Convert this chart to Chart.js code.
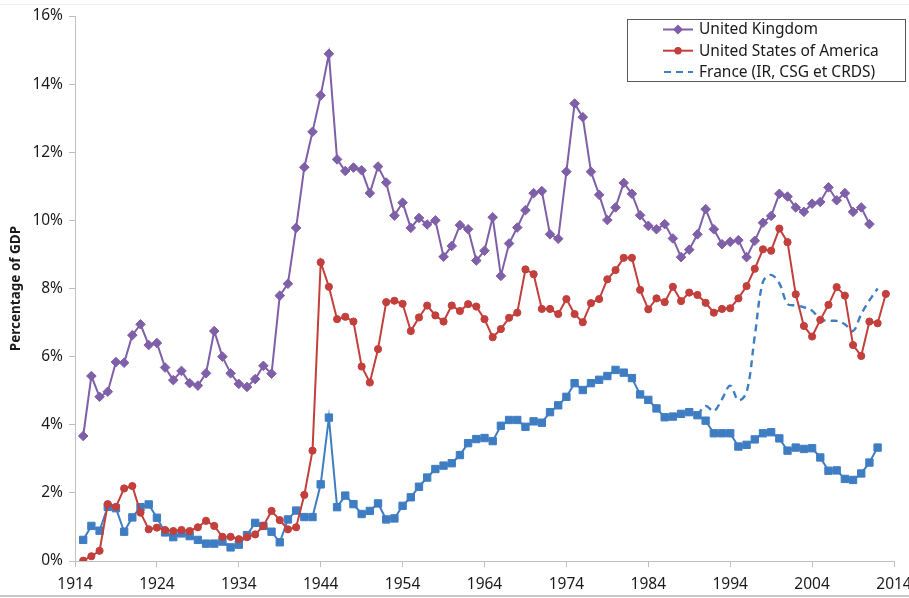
<!DOCTYPE html>
<html>
<head>
<meta charset="utf-8">
<title>Top income tax share of GDP</title>
<script src="https://cdn.jsdelivr.net/npm/chart.js@4/dist/chart.umd.min.js"></script>
<style>
  html, body { margin: 0; padding: 0; background: #fff; }
  #wrap { position: relative; width: 909px; height: 598px; overflow: hidden; }
  #wrap:after {
    content: ''; position: absolute; left: 0; right: 0; bottom: 1px; height: 2px; background: #c9c9c9;
  }
  #wrap:before {
    content: ''; position: absolute; left: 0; right: 0; top: 4px; height: 1px; background: #f0f0f0;
  }
</style>
</head>
<body>
<div id="wrap"><canvas id="chart" width="909" height="598"></canvas></div>
<script>
(function () {
  'use strict';

  // years on the x axis (first data year 1915, last 2013)
  var years = [
    1915, 1916, 1917, 1918, 1919, 1920, 1921, 1922, 1923, 1924,
    1925, 1926, 1927, 1928, 1929, 1930, 1931, 1932, 1933, 1934,
    1935, 1936, 1937, 1938, 1939, 1940, 1941, 1942, 1943, 1944,
    1945, 1946, 1947, 1948, 1949, 1950, 1951, 1952, 1953, 1954,
    1955, 1956, 1957, 1958, 1959, 1960, 1961, 1962, 1963, 1964,
    1965, 1966, 1967, 1968, 1969, 1970, 1971, 1972, 1973, 1974,
    1975, 1976, 1977, 1978, 1979, 1980, 1981, 1982, 1983, 1984,
    1985, 1986, 1987, 1988, 1989, 1990, 1991, 1992, 1993, 1994,
    1995, 1996, 1997, 1998, 1999, 2000, 2001, 2002, 2003, 2004,
    2005, 2006, 2007, 2008, 2009, 2010, 2011, 2012, 2013
  ];

  var xTicks = [1914, 1924, 1934, 1944, 1954, 1964, 1974, 1984, 1994, 2004, 2014];
  var yTicks = [0, 2, 4, 6, 8, 10, 12, 14, 16];

  // United Kingdom, 1915-2011 (% of GDP)
  var ukValues = [
    3.67, 5.43, 4.82, 4.97, 5.84, 5.82, 6.63, 6.95, 6.34, 6.40,
    5.68, 5.31, 5.58, 5.22, 5.15, 5.51, 6.75, 6.00, 5.51, 5.20,
    5.11, 5.34, 5.73, 5.50, 7.79, 8.14, 9.78, 11.56, 12.60, 13.67,
    14.89, 11.79, 11.45, 11.55, 11.47, 10.80, 11.58, 11.11, 10.14, 10.52,
    9.78, 10.07, 9.88, 10.00, 8.93, 9.25, 9.86, 9.74, 8.82, 9.11,
    10.09, 8.37, 9.32, 9.79, 10.30, 10.80, 10.86, 9.59, 9.46, 11.43,
    13.43, 13.03, 11.43, 10.75, 10.01, 10.38, 11.10, 10.78, 10.15, 9.84,
    9.74, 9.89, 9.47, 8.92, 9.14, 9.59, 10.33, 9.74, 9.30, 9.37,
    9.42, 8.92, 9.40, 9.93, 10.13, 10.78, 10.70, 10.38, 10.25, 10.49,
    10.54, 10.97, 10.59, 10.80, 10.25, 10.38, 9.89
  ];

  // United States of America, 1915-2013
  var usValues = [
    0.01, 0.14, 0.30, 1.67, 1.59, 2.13, 2.20, 1.42, 0.93, 0.98,
    0.91, 0.88, 0.91, 0.88, 0.99, 1.18, 1.03, 0.71, 0.71, 0.64,
    0.70, 0.78, 1.03, 1.47, 1.20, 0.93, 0.99, 1.94, 3.24, 8.77,
    8.05, 7.10, 7.17, 7.03, 5.71, 5.24, 6.22, 7.60, 7.64, 7.55,
    6.75, 7.15, 7.50, 7.21, 7.03, 7.50, 7.34, 7.54, 7.47, 7.10,
    6.57, 6.81, 7.14, 7.29, 8.56, 8.42, 7.40, 7.40, 7.25, 7.69,
    7.25, 7.01, 7.57, 7.69, 8.27, 8.54, 8.90, 8.90, 7.96, 7.39,
    7.71, 7.60, 8.05, 7.63, 7.88, 7.81, 7.58, 7.29, 7.40, 7.42,
    7.71, 8.07, 8.58, 9.15, 9.11, 9.76, 9.36, 7.83, 6.90, 6.59,
    7.08, 7.52, 8.04, 7.79, 6.34, 6.02, 7.03, 6.98, 7.84
  ];

  // France, income tax (IR) only, 1915-2012
  var franceIrValues = [
    0.62, 1.03, 0.89, 1.59, 1.55, 0.86, 1.28, 1.58, 1.66, 1.27,
    0.84, 0.70, 0.81, 0.73, 0.62, 0.51, 0.51, 0.57, 0.40, 0.48,
    0.76, 1.12, 1.03, 0.86, 0.55, 1.22, 1.48, 1.29, 1.29, 2.25,
    4.21, 1.58, 1.92, 1.67, 1.38, 1.47, 1.69, 1.22, 1.25, 1.62,
    1.87, 2.18, 2.45, 2.70, 2.80, 2.87, 3.11, 3.46, 3.58, 3.61,
    3.52, 3.97, 4.14, 4.14, 3.94, 4.10, 4.06, 4.37, 4.57, 4.82,
    5.22, 5.02, 5.22, 5.32, 5.43, 5.61, 5.53, 5.37, 4.89, 4.73,
    4.48, 4.22, 4.24, 4.32, 4.37, 4.28, 4.12, 3.75, 3.75, 3.75,
    3.36, 3.41, 3.57, 3.75, 3.78, 3.60, 3.24, 3.33, 3.29, 3.31,
    3.04, 2.65, 2.66, 2.41, 2.38, 2.57, 2.89, 3.33
  ];

  // France, IR + CSG + CRDS, 1990-2012
  var franceTotalYears = [
    1990, 1991, 1992, 1993, 1994, 1995, 1996, 1997, 1998, 1999,
    2000, 2001, 2002, 2003, 2004, 2005, 2006, 2007, 2008, 2009,
    2010, 2011, 2012
  ];
  var franceTotalValues = [
    4.28, 4.55, 4.40, 4.75, 5.15, 4.72, 4.95, 6.60, 8.20, 8.40,
    8.15, 7.55, 7.50, 7.45, 7.35, 7.10, 7.05, 7.05, 6.95, 6.75,
    7.25, 7.65, 8.00
  ];

  var seriesNames = ['United Kingdom', 'United States of America', 'France (IR, CSG et CRDS)'];

  var PURPLE = '#7e5fa8';
  var RED = '#c23f3c';
  var BLUE = '#3f7dc3';
  var AXIS = '#bfbfbf';
  var TEXT = '#1a1a1a';
  var FONT = "'Noto Sans', 'Liberation Sans', sans-serif";

  function toPoints(xs, ys) {
    return ys.map(function (v, i) { return { x: xs[i], y: v }; });
  }

  // legend drawn as a framed box inside the plot, like the original
  var boxLegend = {
    id: 'boxLegend',
    afterDraw: function (chart) {
      var ctx = chart.ctx;
      var left = 627.5, top = 19.5, w = 278, h = 62;
      var sets = chart.data.datasets;
      ctx.save();
      ctx.fillStyle = '#fff';
      ctx.fillRect(left, top, w, h);
      ctx.strokeStyle = '#5a5a5a';
      ctx.lineWidth = 1;
      ctx.strokeRect(left, top, w, h);
      ctx.font = '15.5px ' + FONT;
      ctx.textBaseline = 'middle';
      ctx.fillStyle = TEXT;
      [0, 1, 3].forEach(function (dsIdx, row) {
        var ds = sets[dsIdx];
        var cy = 29.5 + row * 21.2;
        var x0 = 663, x1 = 693;
        ctx.strokeStyle = ds.borderColor;
        ctx.lineWidth = 2;
        ctx.setLineDash(ds.borderDash || []);
        ctx.beginPath();
        ctx.moveTo(x0 + (ds.borderDash ? 1 : 0), cy);
        ctx.lineTo(x1, cy);
        ctx.stroke();
        ctx.setLineDash([]);
        if (ds.pointRadius) {
          Chart.helpers.drawPoint(ctx, {
            pointStyle: ds.pointStyle, radius: ds.pointRadius * 0.75, borderWidth: 1
          }, (x0 + x1) / 2, cy);
          ctx.fillStyle = ds.backgroundColor;
          ctx.fill();
          ctx.fillStyle = TEXT;
        }
        ctx.fillText(seriesNames[row], 699, cy + 0.5);
      });
      ctx.restore();
    }
  };

  var datasets = [
    {
      label: seriesNames[0],
      data: toPoints(years, ukValues),
      borderColor: PURPLE, backgroundColor: PURPLE,
      borderWidth: 2, pointStyle: 'rectRot', pointRadius: 4.8,
      pointBorderWidth: 1, tension: 0
    },
    {
      label: seriesNames[1],
      data: toPoints(years, usValues),
      borderColor: RED, backgroundColor: RED,
      borderWidth: 2, pointStyle: 'circle', pointRadius: 3.6,
      pointBorderWidth: 1, tension: 0
    },
    {
      label: 'France (IR)',
      data: toPoints(years, franceIrValues),
      borderColor: BLUE, backgroundColor: BLUE,
      borderWidth: 2, pointStyle: 'rect', pointRadius: 5.2,
      pointBorderWidth: 1, tension: 0
    },
    {
      label: seriesNames[2],
      data: toPoints(franceTotalYears, franceTotalValues),
      borderColor: BLUE, backgroundColor: BLUE,
      borderWidth: 2.4, borderDash: [7, 5], pointRadius: 0,
      tension: 0.35
    }
  ];

  new Chart(document.getElementById('chart'), {
    type: 'line',
    data: { datasets: datasets },
    options: {
      responsive: false,
      animation: false,
      events: [],
      layout: { padding: { top: 16, right: 15, bottom: 0, left: 0 } },
      plugins: {
        legend: { display: false },
        tooltip: { enabled: false }
      },
      scales: {
        x: {
          type: 'linear',
          min: xTicks[0],
          max: xTicks[xTicks.length - 1],
          afterBuildTicks: function (scale) {
            scale.ticks = xTicks.map(function (v) { return { value: v }; });
          },
          afterFit: function (scale) {
            scale.height = 37;
            scale.paddingRight = 15;
            scale.paddingLeft = 0;
          },
          ticks: {
            color: TEXT,
            font: { family: FONT, size: 15.5 },
            padding: 8,
            maxRotation: 0,
            autoSkip: false,
            callback: function (v) { return String(v); }
          },
          grid: { drawOnChartArea: false, drawTicks: true, tickLength: 6, color: AXIS },
          border: { color: AXIS, width: 1 }
        },
        y: {
          min: yTicks[0],
          max: yTicks[yTicks.length - 1],
          afterBuildTicks: function (scale) {
            scale.ticks = yTicks.map(function (v) { return { value: v }; });
          },
          afterFit: function (scale) {
            scale.width = 75;
          },
          ticks: {
            color: TEXT,
            font: { family: FONT, size: 15.5 },
            padding: 6,
            callback: function (v) { return v + '%'; }
          },
          grid: { drawOnChartArea: false, drawTicks: true, tickLength: 6, color: AXIS },
          border: { color: AXIS, width: 1 },
          title: {
            display: true,
            text: 'Percentage of GDP',
            color: TEXT,
            font: { family: FONT, size: 13.5, weight: 'bold' },
            padding: { top: 8, bottom: 0 }
          }
        }
      }
    },
    plugins: [boxLegend]
  });
})();
</script>
</body>
</html>
